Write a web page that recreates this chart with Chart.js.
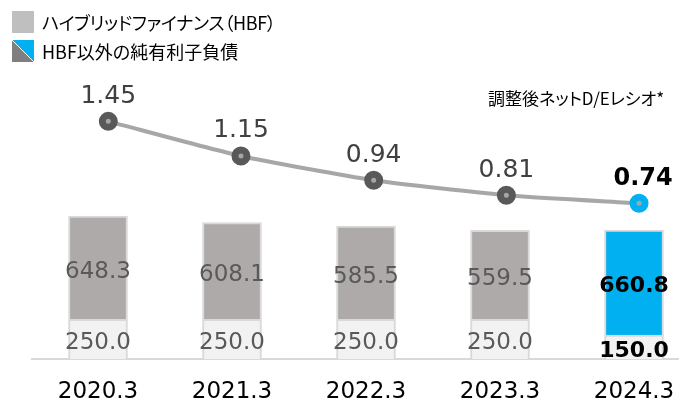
<!DOCTYPE html>
<html lang="ja">
<head>
<meta charset="utf-8">
<title>HBF・純有利子負債</title>
<script src="https://cdn.jsdelivr.net/npm/chart.js@4.4.1/dist/chart.umd.min.js"></script>
<style>
    body { margin: 0; background: #fff; }
    #wrap { position: relative; width: 679px; height: 407px; }
    .jp { position: absolute; font-family: "Noto Sans CJK JP", sans-serif; color: #000; font-feature-settings: "palt"; white-space: nowrap; }
    .legend-item { left: 12px; font-size: 18px; line-height: 22px; }
    .swatch { display: inline-block; width: 22px; height: 22px; vertical-align: top; margin-right: 8px; letter-spacing: 0; }
    .swatch.hbf { background: #bfbfbf; }
    .swatch.debt { background: linear-gradient(to bottom left, #00b0f0 49%, #fff 49%, #fff 51%, #7f7f7f 51%); }
    #ratioLabel { left: 488px; top: 85px; font-size: 17px; }
</style>
</head>
<body>
<div id="wrap">
    <canvas id="debtChart"></canvas>
    <div class="jp legend-item" style="top: 11px; letter-spacing: -0.3px;"><span class="swatch hbf"></span>ハイブリッドファイナンス（HBF）</div>
    <div class="jp legend-item" style="top: 40px;"><span class="swatch debt"></span>HBF以外の純有利子負債</div>
    <div class="jp" id="ratioLabel">調整後ネットD/Eレシオ*</div>
</div>
<script>
// =============================================
// DATA
// =============================================
const categories = ["2020.3", "2021.3", "2022.3", "2023.3", "2024.3"];
const hbfValues = [250.0, 250.0, 250.0, 250.0, 150.0];
const netDebtValues = [648.3, 608.1, 585.5, 559.5, 660.8];
const deRatio = [1.45, 1.15, 0.94, 0.81, 0.74];

const GRAY_BAR = "#aeaaaa";
const BLUE = "#00b0f0";
const LAST = categories.length - 1;

// =============================================
// PLUGINS
// =============================================

// baseline across the full category band
const baselinePlugin = {
    id: "baseline",
    beforeDatasetsDraw(chart) {
        const x = chart.scales.x;
        const y = chart.scales.y.getPixelForValue(0);
        const step = x.getPixelForValue(1) - x.getPixelForValue(0);
        const ctx = chart.ctx;
        ctx.save();
        ctx.strokeStyle = "#d9d9d9";
        ctx.lineWidth = 2;
        ctx.beginPath();
        ctx.moveTo(x.getPixelForValue(0) - step / 2, y);
        ctx.lineTo(x.getPixelForValue(LAST) + step / 2, y);
        ctx.stroke();
        ctx.restore();
    }
};

// value labels on bars and points
const valueLabels = {
    id: "valueLabels",
    afterDatasetsDraw(chart) {
        const ctx = chart.ctx;
        ctx.save();
        ctx.textAlign = "center";
        ctx.textBaseline = "middle";

        chart.data.datasets.forEach((ds, di) => {
            const meta = chart.getDatasetMeta(di);
            meta.data.forEach((el, i) => {
                const bold = i === LAST;
                const raw = ds.type === "line" ? ds.data[i].y : ds.data[i];
                let text, tx = el.x, ty;
                if (ds.type === "line") {
                    text = raw.toFixed(2);
                    ctx.font = bold ? "bold 24px 'DejaVu Sans'" : "25px 'DejaVu Sans'";
                    ctx.fillStyle = bold ? "#000" : "#404040";
                    ty = el.y - 25;
                    if (bold) tx += 4;
                } else {
                    text = raw.toFixed(1);
                    ctx.font = bold ? "bold 22px 'DejaVu Sans'" : "23px 'DejaVu Sans'";
                    ctx.fillStyle = bold ? "#000" : "#595959";
                    ty = (el.y + el.base) / 2 + 4;
                }
                ctx.fillText(text, tx, ty);
            });
        });
        ctx.restore();
    }
};

// =============================================
// CHART
// =============================================
new Chart(document.getElementById("debtChart"), {
    type: "bar",
    data: {
        labels: categories,
        datasets: [
            {
                type: "line",
                label: "調整後ネットD/Eレシオ",
                data: deRatio.map((v, i) => ({ x: i, y: v })),
                xAxisID: "xl",
                yAxisID: "y2",
                borderColor: "#a9a6a6",
                borderWidth: 4,
                tension: 0.2,
                pointRadius: 6,
                pointBorderWidth: 7,
                pointBackgroundColor: "#a6a6a6",
                pointBorderColor: deRatio.map((v, i) => i === LAST ? BLUE : "#595959"),
                clip: false,
                order: 0
            },
            {
                label: "ハイブリッドファイナンス（HBF）",
                data: hbfValues,
                backgroundColor: "#f2f2f2",
                borderColor: "#d9d9d9",
                borderWidth: 2,
                barThickness: 59,
                grouped: false,
                clip: false,
                order: 1
            },
            {
                label: "HBF以外の純有利子負債",
                data: netDebtValues,
                backgroundColor: netDebtValues.map((v, i) => i === LAST ? BLUE : GRAY_BAR),
                borderColor: "#d9d9d9",
                borderWidth: 2,
                barThickness: 59,
                grouped: false,
                clip: false,
                order: 1
            }
        ]
    },
    options: {
        responsive: true,
        maintainAspectRatio: false,
        animation: false,
        events: [],
        layout: { padding: { left: 98, right: 45, top: 80, bottom: 0 } },
        plugins: {
            legend: { display: false },
            tooltip: { enabled: false }
        },
        scales: {
            x: {
                type: "category",
                stacked: true,
                offset: false,
                grid: { display: false, offset: false },
                border: { display: false },
                ticks: {
                    color: "#000",
                    padding: 1,
                    font: { family: "DejaVu Sans", size: 23, lineHeight: 1.2 }
                }
            },
            xl: {
                type: "linear",
                display: false,
                offset: false,
                grid: { offset: false },
                min: -0.0776,
                max: 3.962
            },
            y: {
                stacked: true,
                display: false,
                min: -65.4,
                max: 1754.7
            },
            y2: {
                display: false,
                min: -0.698,
                max: 1.808
            }
        }
    },
    plugins: [baselinePlugin, valueLabels]
});
</script>
</body>
</html>
